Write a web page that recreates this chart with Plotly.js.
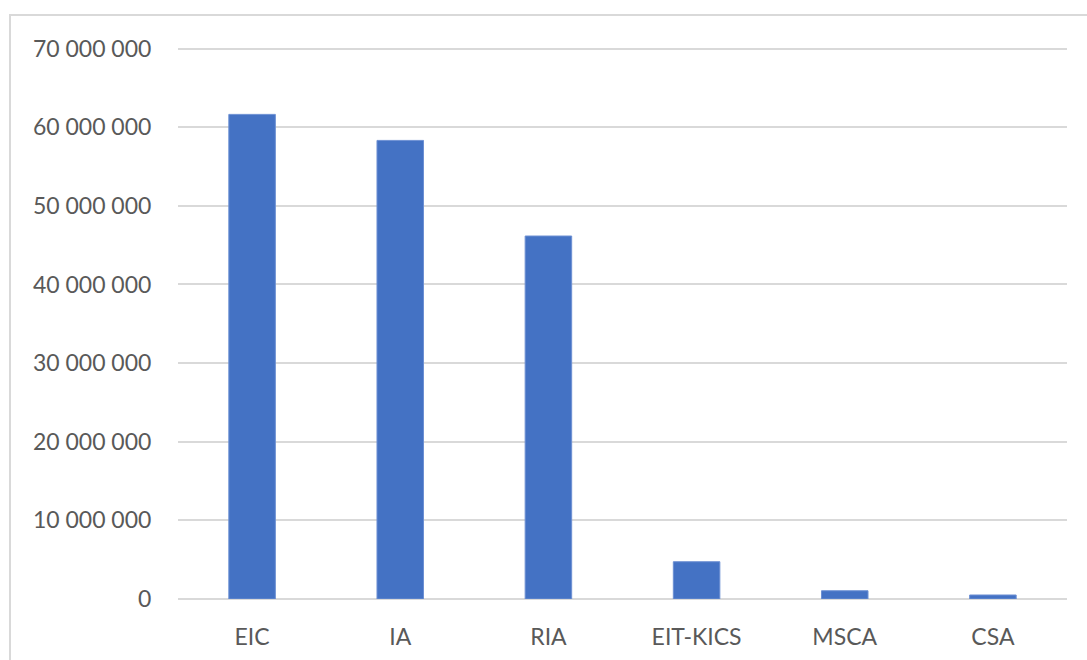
<!DOCTYPE html>
<html>
<head>
<meta charset="utf-8">
<script src="https://cdn.plot.ly/plotly-3.0.1.min.js"></script>
<style>
  html, body { margin: 0; padding: 0; background: #ffffff; overflow: hidden; }
  #frame { position: absolute; left: 9px; top: 14px; width: 1300px; height: 900px; border: 2px solid #d9d9d9; box-sizing: border-box; }
  #chart { position: absolute; left: 0; top: 0; width: 1087px; height: 660px; }
</style>
</head>
<body>
<div id="frame"></div>
<div id="chart"></div>
<script>
const categories = ["EIC", "IA", "RIA", "EIT-KICS", "MSCA", "CSA"];
const values = [61630000, 58320000, 46160000, 4740000, 1050000, 510000];

const trace = {
  type: "bar",
  x: categories,
  y: values,
  marker: { color: "#4472C4", line: { color: "#6d90d3", width: 1 } },
  hoverinfo: "x+y"
};

const layout = {
  width: 1087,
  height: 660,
  margin: { l: 178, r: 20, t: 46.9, b: 60.7 },
  paper_bgcolor: "rgba(0,0,0,0)",
  plot_bgcolor: "rgba(0,0,0,0)",
  separators: ", ",
  bargap: 0.686,
  showlegend: false,
  font: { family: "Lato, Liberation Sans, Arial, sans-serif", size: 23, color: "#595959" },
  xaxis: {
    type: "category",
    showgrid: false,
    showline: false,
    zeroline: false,
    ticks: "outside",
    ticklen: 17,
    tickcolor: "rgba(0,0,0,0)",
    tickfont: { size: 23, color: "#595959" }
  },
  yaxis: {
    range: [0, 70200000],
    tickvals: [0, 10000000, 20000000, 30000000, 40000000, 50000000, 60000000, 70000000],
    tickformat: ",d",
    showgrid: true,
    gridcolor: "#d9d9d9",
    gridwidth: 2,
    zeroline: true,
    zerolinecolor: "#d9d9d9",
    zerolinewidth: 2,
    showline: false,
    ticks: "outside",
    ticklen: 21,
    tickcolor: "rgba(0,0,0,0)",
    tickfont: { size: 23, color: "#595959" }
  }
};

Plotly.newPlot("chart", [trace], layout, { displayModeBar: false, staticPlot: true });
</script>
</body>
</html>
